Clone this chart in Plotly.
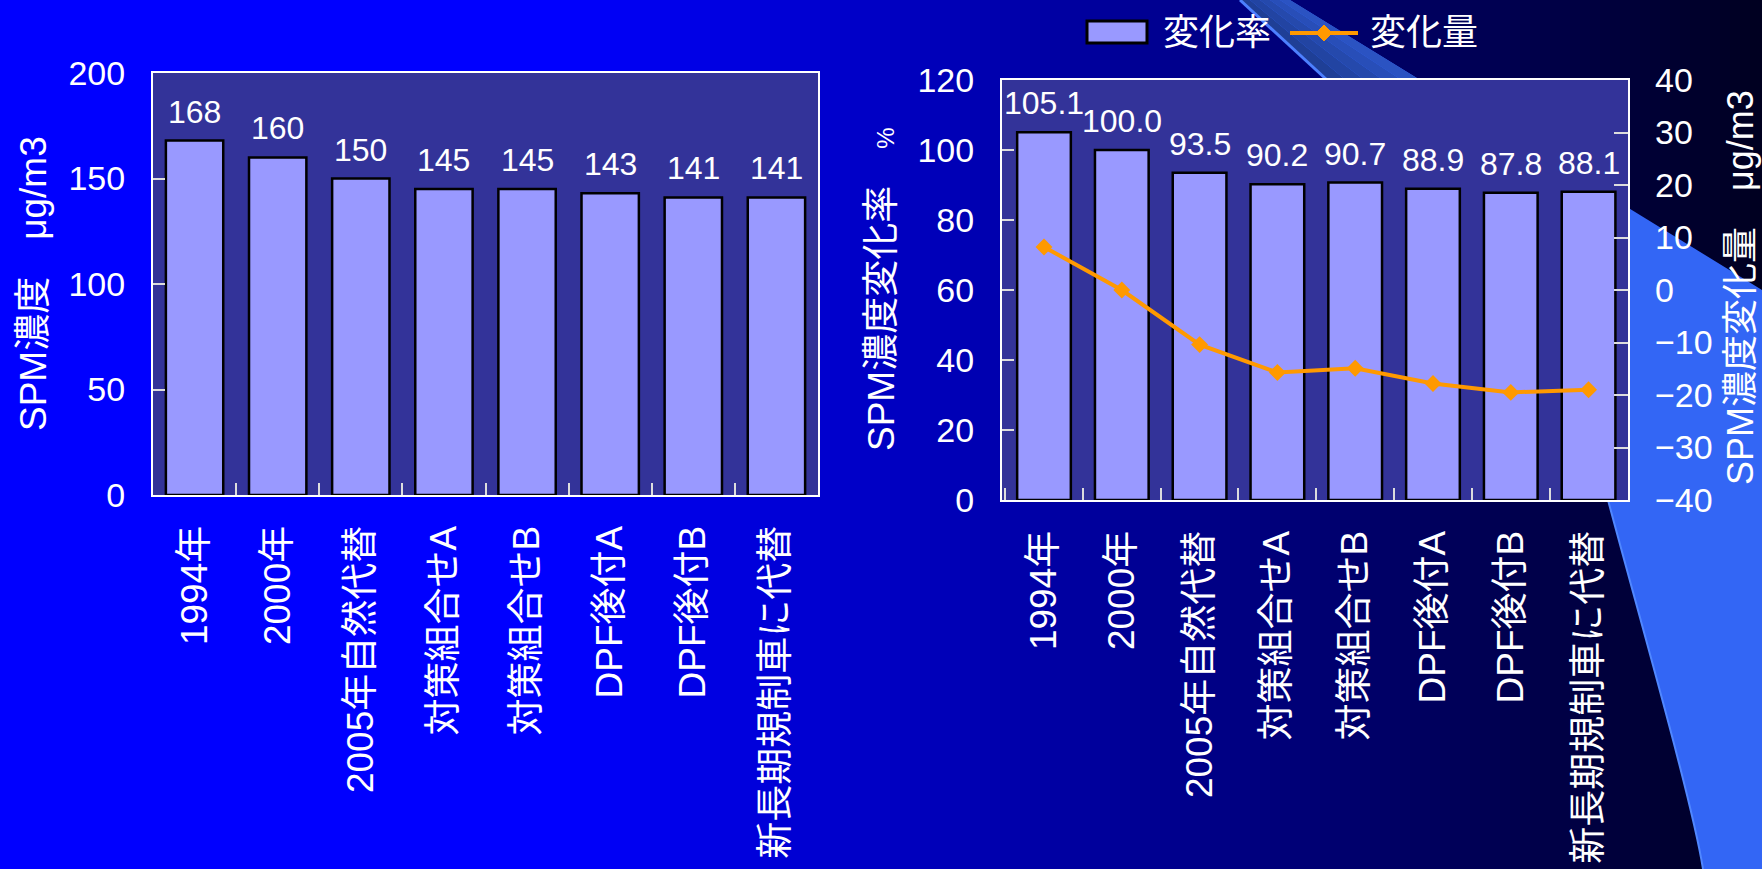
import plotly.graph_objects as go

# ---- data -------------------------------------------------------------
categories = ["1994年", "2000年", "2005年自然代替", "対策組合せA", "対策組合せB",
              "DPF後付A", "DPF後付B", "新長期規制車に代替"]
spm_conc = [168, 160, 150, 145, 145, 143, 141, 141]            # μg/m3
change_rate = [105.1, 100.0, 93.5, 90.2, 90.7, 88.9, 87.8, 88.1]  # %
change_amount = [8.2, 0.0, -10.4, -15.7, -14.9, -17.8, -19.5, -19.0]  # μg/m3

conc_ticks = [0, 50, 100, 150, 200]
rate_ticks = [0, 20, 40, 60, 80, 100, 120]
amount_ticks = [-40, -30, -20, -10, 0, 10, 20, 30, 40]

legend_names = ["変化率", "変化量"]
title_conc = "SPM濃度　μg/m3"
title_rate = "SPM濃度変化率　<span style='font-size:24px'>%</span>"
title_amount = "SPM濃度変化量　μg/m3"

# ---- canvas helpers (pixel -> paper fraction) -------------------------
W, H = 1762, 869


def px(x):
    return x / W


def py(y):
    return 1 - y / H


NUM = "Liberation Sans, Arial, sans-serif"
JP = "Liberation Sans, Noto Sans CJK JP, sans-serif"
WHITE = "#FFFFFF"
BAR = "#9999FF"
PLOT_BG = "#333399"
ORANGE = "#FF9900"

LEFT_X = (153, 818)
LEFT_Y = (73, 495)
RIGHT_X = (1002, 1628)
RIGHT_Y = (80, 500)

shapes = []

# slide background: horizontal blue -> navy gradient built from thin strips
STRIP = 10


def blue_at(x):
    if x <= 560:
        return 255
    t = (x - 560) / (W - 560)
    return round(255 - t * (255 - 32))


for x0 in range(0, W, STRIP):
    b = blue_at(x0 + STRIP / 2)
    shapes.append(dict(type="rect", xref="paper", yref="paper", layer="below",
                       x0=px(x0), x1=px(min(x0 + STRIP + 1, W)), y0=0, y1=1,
                       fillcolor=f"rgb(0,0,{b})", line=dict(width=0)))


def P(x, y):
    return f"{px(x):.5f},{py(y):.5f}"


# decorative swoosh on the right side
swoosh = ("M" + P(1240, 0) + " L" + P(1290, 0) + " L" + P(1762, 290) +
          " L" + P(1762, 869) + " L" + P(1703, 869) +
          " C" + P(1692, 800) + " " + P(1640, 620) + " " + P(1608, 500) +
          " L" + P(1327, 80) + " Z")
shapes.append(dict(type="path", xref="paper", yref="paper", layer="below",
                   path=swoosh, fillcolor="rgb(51,102,245)", line=dict(width=0)))

# darker upper part of the swoosh band (above the right plot)
A, B, G, Q = (1240, 0), (1290, 0), (1327, 80), (1420, 80)
n_band = 5
c0, c1 = (30, 60, 145), (44, 86, 200)
for i in range(n_band):
    f0, f1 = i / n_band, (i + 1) / n_band
    t0 = (A[0] + (B[0] - A[0]) * f0, 0)
    t1 = (A[0] + (B[0] - A[0]) * f1, 0)
    b0 = (G[0] + (Q[0] - G[0]) * f0, 80)
    b1 = (G[0] + (Q[0] - G[0]) * f1, 80)
    fm = (f0 + f1) / 2
    col = tuple(round(c0[k] + (c1[k] - c0[k]) * fm) for k in range(3))
    shapes.append(dict(type="path", xref="paper", yref="paper", layer="below",
                       path="M" + P(*t0) + " L" + P(*t1) + " L" + P(*b1) + " L" + P(*b0) + " Z",
                       fillcolor=f"rgb{col}", line=dict(width=0)))

# bright edges of the swoosh
shapes.append(dict(type="line", xref="paper", yref="paper", layer="below",
                   x0=px(1240), y0=py(0), x1=px(1327), y1=py(80),
                   line=dict(color="rgb(77,128,255)", width=3)))
shapes.append(dict(type="path", xref="paper", yref="paper", layer="below",
                   path="M" + P(1703, 869) + " C" + P(1692, 800) + " " + P(1640, 620) + " " + P(1608, 500),
                   line=dict(color="rgb(80,135,255)", width=2)))

# plot-area backgrounds
for (xa, xb), (ya, yb) in [(LEFT_X, LEFT_Y), (RIGHT_X, RIGHT_Y)]:
    shapes.append(dict(type="rect", xref="paper", yref="paper", layer="below",
                       x0=px(xa), x1=px(xb), y0=py(yb), y1=py(ya),
                       fillcolor=PLOT_BG, line=dict(width=0)))

# legend swatches
shapes.append(dict(type="rect", xref="paper", yref="paper",
                   x0=px(1087), x1=px(1147), y0=py(43), y1=py(21),
                   fillcolor=BAR, line=dict(color="black", width=3)))
shapes.append(dict(type="line", xref="paper", yref="paper",
                   x0=px(1290), x1=px(1358), y0=py(33), y1=py(33),
                   line=dict(color=ORANGE, width=4)))
shapes.append(dict(type="path", xref="paper", yref="paper",
                   path="M" + P(1316, 33) + " L" + P(1324, 25) + " L" + P(1332, 33) +
                        " L" + P(1324, 41) + " Z",
                   fillcolor=ORANGE, line=dict(color=ORANGE, width=1)))

title_font = dict(family=JP, size=37, color=WHITE)
legend_font = dict(family=JP, size=36, color=WHITE)
label_font = dict(family=NUM, size=32, color=WHITE)

annotations = [
    # legend texts
    dict(text=legend_names[0], x=px(1161), y=py(32), xref="paper", yref="paper",
         xanchor="left", yanchor="middle", showarrow=False, font=legend_font),
    dict(text=legend_names[1], x=px(1368), y=py(32), xref="paper", yref="paper",
         xanchor="left", yanchor="middle", showarrow=False, font=legend_font),
    # axis titles
    dict(text=title_conc, x=px(33), y=py(284), xref="paper", yref="paper",
         textangle=-90, xanchor="center", yanchor="middle", showarrow=False, font=title_font),
    dict(text=title_rate, x=px(881), y=py(289), xref="paper", yref="paper",
         textangle=-90, xanchor="center", yanchor="middle", showarrow=False, font=title_font),
    dict(text=title_amount, x=px(1740), y=py(288), xref="paper", yref="paper",
         textangle=-90, xanchor="center", yanchor="middle", showarrow=False,
         borderpad=0, font=dict(title_font, size=36)),
]

# value labels above the bars
for c, v in zip(categories, spm_conc):
    annotations.append(dict(text=f"{v}", x=c, y=v, xref="x", yref="y",
                            xanchor="center", yanchor="bottom", yshift=9,
                            showarrow=False, font=label_font))
for c, v in zip(categories, change_rate):
    annotations.append(dict(text=f"{v:.1f}", x=c, y=v, xref="x2", yref="y2",
                            xanchor="center", yanchor="bottom", yshift=9,
                            showarrow=False, font=label_font))

# ---- traces -----------------------------------------------------------
bar_style = dict(color=BAR, line=dict(color="black", width=2.5))

fig = go.Figure()
fig.add_trace(go.Bar(
    x=categories, y=spm_conc, xaxis="x", yaxis="y",
    marker=bar_style, showlegend=False,
))
fig.add_trace(go.Bar(
    x=categories, y=change_rate, xaxis="x2", yaxis="y2", name=legend_names[0],
    marker=bar_style, showlegend=False,
))
fig.add_trace(go.Scatter(
    x=categories, y=change_amount, xaxis="x2", yaxis="y3", name=legend_names[1],
    mode="lines+markers", line=dict(color=ORANGE, width=4),
    marker=dict(symbol="diamond", size=13, color=ORANGE),
    cliponaxis=False, showlegend=False,
))

# ---- axes -------------------------------------------------------------
common_x = dict(
    type="category", showline=True, linecolor=WHITE, linewidth=2, mirror=True,
    ticks="inside", tickson="boundaries", ticklen=12, tickcolor="#DDDDDD", tickwidth=1.5,
    tickangle=-90, tickfont=dict(family=JP, size=37, color=WHITE),
    ticklabelstandoff=14, showgrid=False, zeroline=False, layer="below traces",
    automargin=False,
)
common_y = dict(
    showline=True, linecolor=WHITE, linewidth=2, mirror=True,
    ticks="inside", ticklen=12, tickcolor="#DDDDDD", tickwidth=1.5,
    tickfont=dict(family=NUM, size=34, color=WHITE), ticklabelstandoff=19,
    showgrid=False, zeroline=False, automargin=False,
)

fig.update_layout(
    template="none",
    width=W, height=H,
    margin=dict(l=0, r=0, t=0, b=0, pad=0, autoexpand=False),
    paper_bgcolor="#0000FF", plot_bgcolor="rgba(0,0,0,0)",
    bargap=0.31, showlegend=False,
    shapes=shapes, annotations=annotations,
    xaxis=dict(common_x, domain=[px(LEFT_X[0]), px(LEFT_X[1])], anchor="y"),
    yaxis=dict(common_y, domain=[py(LEFT_Y[1]), py(LEFT_Y[0])], anchor="x",
               range=[0, 200], tickvals=conc_ticks),
    xaxis2=dict(common_x, domain=[px(RIGHT_X[0]), px(RIGHT_X[1])], anchor="y2"),
    yaxis2=dict(common_y, domain=[py(RIGHT_Y[1]), py(RIGHT_Y[0])], anchor="x2",
                range=[0, 120], tickvals=rate_ticks),
    yaxis3=dict(common_y, overlaying="y2", side="right", anchor="x2",
                showline=False, mirror=False, ticklen=14, ticklabelstandoff=26,
                range=[-40, 40], tickvals=amount_ticks),
)

fig.write_html("out.html")
